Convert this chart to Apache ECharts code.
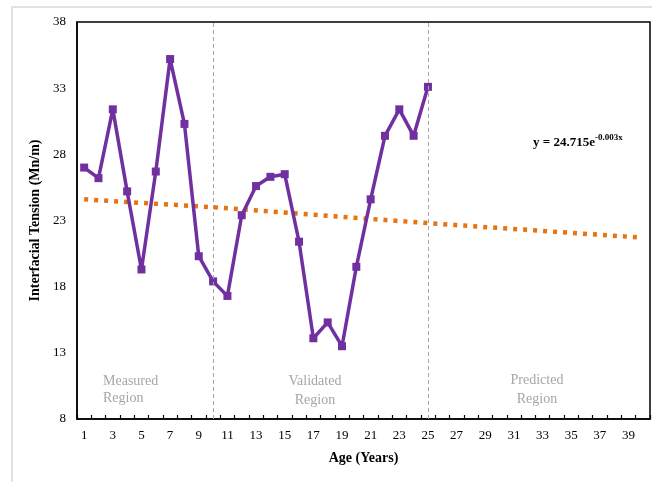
<!DOCTYPE html>
<html>
<head>
<meta charset="utf-8">
<script src="https://cdn.jsdelivr.net/npm/echarts@6/dist/echarts.min.js"></script>
<style>html,body{margin:0;padding:0;background:#fff}#c{width:652px;height:482px}</style>
</head>
<body>
<div id="c"></div>
<script>
var ages = ['1','2','3','4','5','6','7','8','9','10','11','12','13','14','15','16','17','18','19','20',
            '21','22','23','24','25','26','27','28','29','30','31','32','33','34','35','36','37','38','39','40'];
var measuredAges = ['1','2','3','4','5','6','7','8','9','10','11','12','13','14','15','16','17','18','19','20','21','22','23','24','25'];
var tension = [27.0,26.2,31.4,25.2,19.3,26.7,35.2,30.3,20.3,18.4,17.3,23.4,25.6,26.3,26.5,21.4,14.1,15.3,13.5,19.5,24.6,29.4,31.4,29.4,33.1];
var trendAges = ['1','10','25','40'];
var trendValues = [24.6,24.0,22.8,21.7];
var regionBounds = ['10','25'];
var yTicks = {min: 8, max: 38, interval: 5};

var FONT = 'Liberation Serif';
var chart = echarts.init(document.getElementById('c'), null, {renderer: 'canvas'});
chart.setOption({
  animation: false,
  backgroundColor: '#fff',
  grid: {left: 77, right: 2, top: 22, bottom: 63, show: true, borderColor: '#000', borderWidth: 1.5, containLabel: false},
  xAxis: {
    type: 'category', data: ages, boundaryGap: true,
    name: 'Age (Years)', nameLocation: 'middle', nameGap: 32,
    nameTextStyle: {fontFamily: FONT, fontWeight: 'bold', fontSize: 14, color: '#000'},
    axisLine: {lineStyle: {color: '#000', width: 1.5}},
    axisTick: {show: true, inside: true, length: 4, interval: 0, lineStyle: {color: '#000', width: 1.2}},
    axisLabel: {interval: 1, fontFamily: FONT, fontSize: 13, color: '#000', margin: 10},
    splitLine: {show: false}
  },
  yAxis: {
    type: 'value', min: yTicks.min, max: yTicks.max, interval: yTicks.interval,
    name: 'Interfacial Tension (Mn/m)', nameLocation: 'middle', nameGap: 25, nameRotate: 90,
    nameTextStyle: {fontFamily: FONT, fontWeight: 'bold', fontSize: 14, color: '#000'},
    axisLine: {show: true, lineStyle: {color: '#000', width: 1.5}},
    axisTick: {show: false},
    axisLabel: {fontFamily: FONT, fontSize: 13, color: '#000', margin: 11},
    splitLine: {show: false}
  },
  series: [
    {
      type: 'line', name: 'trend', z: 2,
      data: trendAges.map(function (a, i) { return [a, trendValues[i]]; }),
      showSymbol: false, symbol: 'none',
      lineStyle: {color: '#E8730F', width: 4.5, type: [4, 6], cap: 'butt'}
    },
    {
      type: 'line', name: 'IFT', z: 3,
      data: measuredAges.map(function (a, i) { return [a, tension[i]]; }),
      symbol: 'rect', symbolSize: 8,
      itemStyle: {color: '#7030A0'},
      lineStyle: {color: '#7030A0', width: 3.5},
      markLine: {
        silent: true, symbol: 'none', label: {show: false},
        lineStyle: {color: '#A6A6A6', width: 1, type: [4, 3]},
        data: regionBounds.map(function (b) { return {xAxis: b}; })
      }
    }
  ],
  graphic: [
    {type: 'rect', shape: {x: 12, y: 7, width: 700, height: 520}, style: {fill: null, stroke: '#D9D9D9', lineWidth: 1.5}, z: -10, silent: true},
    {type: 'text', left: 103, top: 373, style: {text: 'Measured\nRegion', fontFamily: FONT, fontSize: 14, fill: '#A6A6A6', lineHeight: 17, align: 'left'}},
    {type: 'text', x: 315, y: 372, style: {text: 'Validated\nRegion', fontFamily: FONT, fontSize: 14, fill: '#A6A6A6', lineHeight: 19, align: 'center'}},
    {type: 'text', x: 537, y: 371, style: {text: 'Predicted\nRegion', fontFamily: FONT, fontSize: 14, fill: '#A6A6A6', lineHeight: 19, align: 'center'}},
    {type: 'text', x: 533, y: 133, style: {
      text: '{a|y = 24.715e}{b|-0.003x}',
      rich: {
        a: {fontFamily: FONT, fontWeight: 'bold', fontSize: 13, fill: '#000', verticalAlign: 'bottom', lineHeight: 16},
        b: {fontFamily: FONT, fontWeight: 'bold', fontSize: 9, fill: '#000', verticalAlign: 'top', lineHeight: 16, padding: [0, 0, 6, 0]}
      }
    }}
  ]
});
</script>
</body>
</html>
